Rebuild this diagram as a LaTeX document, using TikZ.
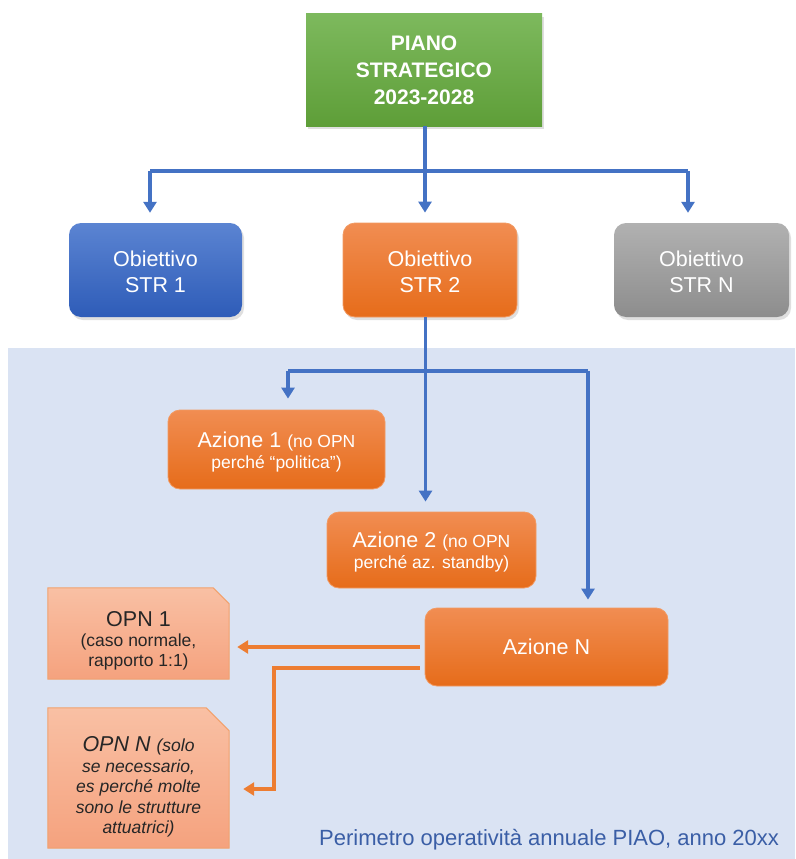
\documentclass[tikz,border=0pt]{standalone}
\usepackage{fontspec}
\setmainfont{Liberation Sans}
\usetikzlibrary{arrows.meta,shadows}
\definecolor{bgblue}{HTML}{DAE3F3}
\definecolor{gtop}{HTML}{7DB95D}
\definecolor{gbot}{HTML}{5E9E38}
\definecolor{btop}{HTML}{5B84D2}
\definecolor{bbot}{HTML}{2E5CB8}
\definecolor{otop}{HTML}{F18D52}
\definecolor{obot}{HTML}{E66C1A}
\definecolor{oline}{HTML}{F29A62}
\definecolor{ytop}{HTML}{B1B1B1}
\definecolor{ybot}{HTML}{8D8D8D}
\definecolor{ptop}{HTML}{F9C0A4}
\definecolor{pbot}{HTML}{F5A27E}
\definecolor{pline}{HTML}{F2A16C}
\definecolor{conblue}{HTML}{4472C4}
\definecolor{conor}{HTML}{ED7D31}
\definecolor{capblue}{HTML}{3A5EA6}
\definecolor{dtext}{HTML}{262626}
\begin{document}
\begin{tikzpicture}[x=1pt,y=-1pt,
  box/.style={rectangle, rounded corners=12pt, inner sep=0pt},
  shad/.style={drop shadow={shadow xshift=2pt, shadow yshift=-3pt, opacity=0.25}},
  greenbox/.style={rectangle, inner sep=0pt, top color=gtop, bottom color=gbot, shad},
  bluebox/.style={box, top color=btop, bottom color=bbot, shad},
  orbox/.style={box, top color=otop, bottom color=obot, draw=oline, line width=0.8pt},
  orboxs/.style={orbox, shad},
  greybox/.style={box, top color=ytop, bottom color=ybot, shad},
  opnframe/.style={top color=ptop, bottom color=pbot, draw=pline, line width=1pt},
  holder/.style={rectangle, inner sep=0pt},
  txt/.style={inner sep=0pt, anchor=base, text=white},
  dtxt/.style={inner sep=0pt, anchor=base, text=dtext},
  big/.style={font=\fontsize{21.5}{25}\selectfont},
  bigb/.style={font=\fontsize{21}{25}\bfseries\selectfont},
  sm/.style={font=\fontsize{17.5}{21}\selectfont},
  bcon/.style={draw=conblue, line width=3.3pt, -{Triangle[width=13pt,length=11pt]}},
  bline/.style={draw=conblue, line width=3.3pt},
  ocon/.style={draw=conor, line width=3.5pt, -{Triangle[width=13pt,length=11pt]}}
]
\useasboundingbox (0,0) rectangle (795,859);
\fill[white] (0,0) rectangle (795,859);
\fill[bgblue] (8,348) rectangle (795,859);

% boxes
\node[greenbox, minimum width=236pt, minimum height=112pt] (plan) at (424,70) {};
\node[bluebox, minimum width=173pt, minimum height=94pt] (o1) at (155.5,270) {};
\node[orboxs, minimum width=174pt, minimum height=94pt] (o2) at (430,270) {};
\node[greybox, minimum width=175pt, minimum height=94pt] (oN) at (701.5,270) {};
\node[orbox, minimum width=217pt, minimum height=79pt] (a1) at (276.5,449.5) {};
\node[orbox, minimum width=209pt, minimum height=76pt] (a2) at (431.5,550) {};
\node[orbox, minimum width=243pt, minimum height=78pt] (aN) at (546.5,647) {};
\node[holder, minimum width=181pt, minimum height=91pt] (opn1) at (138.5,633.5) {};
\node[holder, minimum width=181pt, minimum height=140pt] (opnN) at (138.5,778) {};
\path[opnframe] (opn1.south west) -- (opn1.north west) -- ([xshift=-16pt]opn1.north east)
  -- ([yshift=-16pt]opn1.north east) -- (opn1.south east) -- cycle;
\path[opnframe] (opnN.south west) -- (opnN.north west) -- ([xshift=-23pt]opnN.north east)
  -- ([yshift=-23pt]opnN.north east) -- (opnN.south east) -- cycle;

% texts
\node[txt,bigb] (p1) at (424,50.5) {PIANO};
\node[txt,bigb] (p2) at (424,77.5) {STRATEGICO};
\node[txt,bigb] (p3) at (424,104.5) {2023-2028};
\node[txt,big] (o1a) at (155.5,266) {Obiettivo};
\node[txt,big] (o1b) at (155.5,292) {STR 1};
\node[txt,big] (o2a) at (430,266) {Obiettivo};
\node[txt,big] (o2b) at (430,292) {STR 2};
\node[txt,big] (oNa) at (701.5,266) {Obiettivo};
\node[txt,big] (oNb) at (701.5,292) {STR N};
\node[txt,big] (a1a) at (276.5,447) {Azione 1 {\fontsize{17.5}{21}\selectfont (no OPN}};
\node[txt,sm] (a1b) at (276.5,468) {perché “politica”)};
\node[txt,big] (a2a) at (431.5,547) {Azione 2 {\fontsize{17.5}{21}\selectfont (no OPN}};
\node[txt,sm] (a2b) at (431.5,568) {perché az. standby)};
\node[txt,big] (aNa) at (546.5,654) {Azione N};
\node[dtxt,big] (q1a) at (138.5,626) {OPN 1};
\node[dtxt,sm] (q1b) at (138.5,646) {(caso normale,};
\node[dtxt,sm] (q1c) at (138.5,666) {rapporto 1:1)};
\node[dtxt,big] (qNa) at (138.5,751) {\itshape OPN N {\fontsize{17.5}{21}\selectfont (solo}};
\node[dtxt,sm] (qNb) at (138.5,772) {\itshape se necessario,};
\node[dtxt,sm] (qNc) at (138.5,792.5) {\itshape es perché molte};
\node[dtxt,sm] (qNd) at (138.5,813) {\itshape sono le strutture};
\node[dtxt,sm] (qNe) at (138.5,833.5) {\itshape attuatrici)};
\node[inner sep=0pt, anchor=base west, text=capblue, font=\fontsize{22}{25}\selectfont] (cap) at (319,845) {Perimetro operatività annuale PIAO, anno 20xx};

% blue connectors (top)
\coordinate (j1) at (425,171);
\coordinate (j1l) at (150,171);
\coordinate (j1r) at (688,171);
\draw[bline] (plan.south -| j1) -- (j1);
\draw[bline] (j1l) -- (j1r);
\draw[bcon, shorten >=10pt] (j1l) -- (j1l |- o1.north);
\draw[bcon, shorten >=10pt] (plan.south -| j1) -- (j1 |- o2.north);
\draw[bcon, shorten >=10pt] (j1r) -- (j1r |- oN.north);

% blue connectors (middle)
\coordinate (j2) at (425.5,371);
\coordinate (j2l) at (288,371);
\coordinate (j2r) at (588,371);
\draw[bline] (j2l) -- (j2r);
\draw[bcon, shorten >=10pt] (o2.south -| j2) -- (j2 |- a2.north);
\draw[bcon, shorten >=11pt] (j2l) -- (j2l |- a1.north);
\draw[bcon, shorten >=8pt] (j2r) -- (j2r |- aN.north);

% orange connectors
\coordinate (k1) at (274,789);
\draw[ocon, shorten <=5pt, shorten >=8pt] (aN.west) -- (aN.west -| opn1.east);
\draw[ocon, shorten <=5pt, shorten >=14pt, line cap=butt] ([yshift=-21pt]aN.west) -| (k1) -- (k1 -| opnN.east);
\end{tikzpicture}
\end{document}
